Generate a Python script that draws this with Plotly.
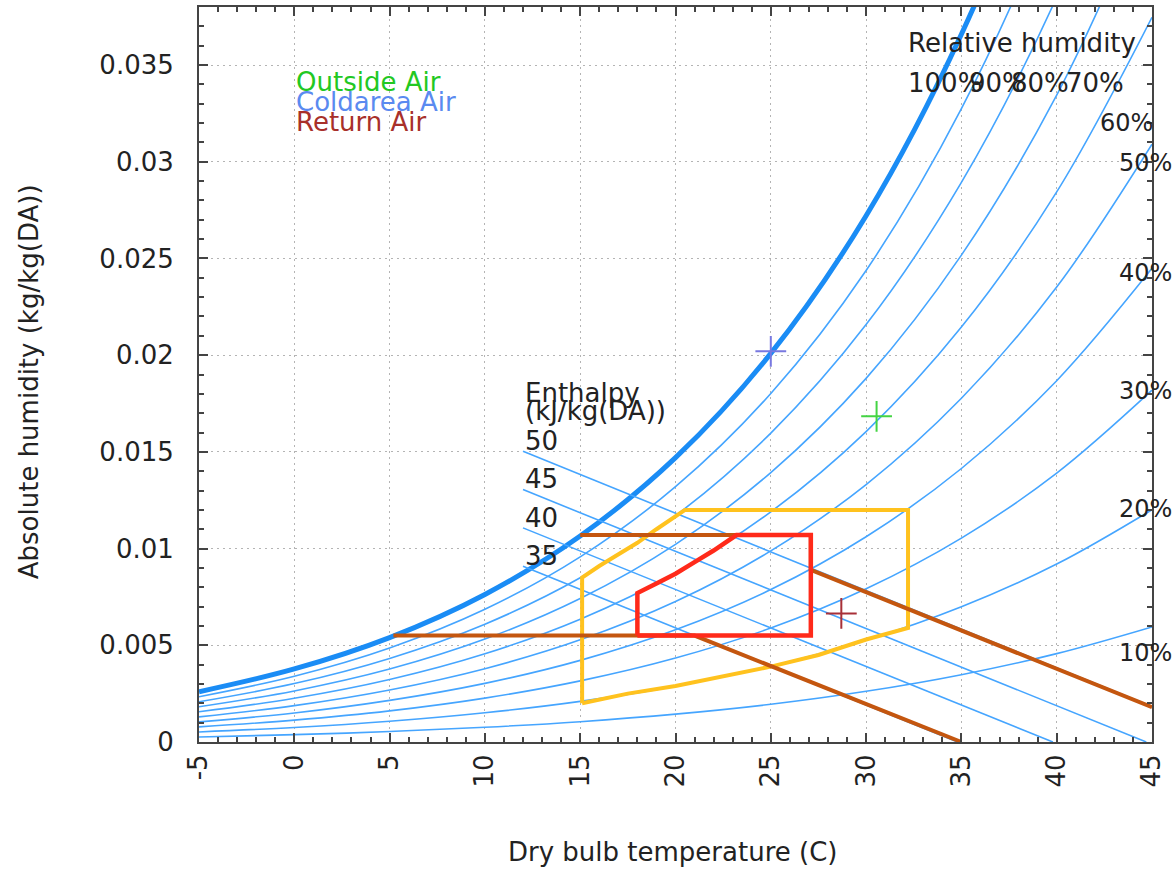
import plotly.graph_objects as go

# ---------------- data ----------------
temps = [-5, 0, 5, 10, 15, 20, 25, 30, 35, 40, 45]
rh_names = ["10%", "20%", "30%", "40%", "50%", "60%", "70%", "80%", "90%", "100%"]
rh10 = [0.00026, 0.00038, 0.00054, 0.00076, 0.00105, 0.00144, 0.00195, 0.00262, 0.00348, 0.00457, 0.00595]
rh20 = [0.00052, 0.00075, 0.00107, 0.00151, 0.00210, 0.00289, 0.00392, 0.00526, 0.00699, 0.00920, 0.01201]
rh30 = [0.00078, 0.00113, 0.00161, 0.00227, 0.00316, 0.00434, 0.00589, 0.00792, 0.01054, 0.01390, 0.01819]
rh40 = [0.00104, 0.00150, 0.00215, 0.00303, 0.00422, 0.00580, 0.00788, 0.01061, 0.01414, 0.01868, 0.02449]
rh50 = [0.00130, 0.00188, 0.00269, 0.00379, 0.00528, 0.00726, 0.00988, 0.01331, 0.01777, 0.02352, 0.03091]
rh60 = [0.00156, 0.00226, 0.00323, 0.00456, 0.00635, 0.00874, 0.01190, 0.01605, 0.02145, 0.02844, 0.03747]
rh70 = [0.00182, 0.00264, 0.00377, 0.00532, 0.00742, 0.01022, 0.01393, 0.01880, 0.02517, 0.03344, 0.04416]
rh80 = [0.00208, 0.00302, 0.00432, 0.00609, 0.00849, 0.01170, 0.01597, 0.02158, 0.02893, 0.03851, 0.05098]
rh90 = [0.00234, 0.00340, 0.00486, 0.00686, 0.00957, 0.01320, 0.01802, 0.02438, 0.03274, 0.04366, 0.05795]
rh100 = [0.00260, 0.00378, 0.00540, 0.00763, 0.01065, 0.01470, 0.02009, 0.02721, 0.03659, 0.04890, 0.06506]

enthalpy_names = ["35", "40", "45", "50"]
h35_t, h35_w = [12, 34.8], [0.00909, 0.0]
h40_t, h40_w = [12, 39.8], [0.01107, 0.0]
h45_t, h45_w = [12, 44.7], [0.01305, 0.0]
h50_t, h50_w = [12, 45.0], [0.01503, 0.00183]

zone_yellow_t = [15.1, 15.1, 16, 17, 18, 19, 20.5, 32.2, 32.2, 30, 27.5, 25, 22.5, 20, 17.5, 15.1]
zone_yellow_w = [0.0020, 0.0085, 0.0091, 0.0097, 0.0103, 0.0110, 0.0120, 0.0120, 0.0059,
                 0.0053, 0.0045, 0.0039, 0.0034, 0.0029, 0.0025, 0.0020]
brown_upper_t = [15.0, 27.1, 27.1, 45.0]
brown_upper_w = [0.0107, 0.0107, 0.0089, 0.0018]
brown_lower_t = [5.2, 21.0, 35.0]
brown_lower_w = [0.0055, 0.0055, 0.0]
zone_red_t = [18, 18, 19, 20, 21, 22, 23.2, 27.1, 27.1, 18]
zone_red_w = [0.0055, 0.0077, 0.0082, 0.0087, 0.0093, 0.0099, 0.0107, 0.0107, 0.0055, 0.0055]

point_names = ["Outside Air", "Coldarea Air", "Return Air"]
point_t = [30.55, 25.0, 28.7]
point_w = [0.01684, 0.0202, 0.00665]
point_colors = ["#44d444", "#7878e0", "#a83038"]
label_colors = ["#22c822", "#5a8af0", "#a8302a"]

x_tick_vals = [-5, 0, 5, 10, 15, 20, 25, 30, 35, 40, 45]
x_tick_text = ["-5", "0", "5", "10", "15", "20", "25", "30", "35", "40", "45"]
y_tick_vals = [0, 0.005, 0.01, 0.015, 0.02, 0.025, 0.03, 0.035]
y_tick_text = ["0", "0.005", "0.01", "0.015", "0.02", "0.025", "0.03", "0.035"]

FONT = "DejaVu Sans"
FS = 26

fig = go.Figure()

rh_series = [rh10, rh20, rh30, rh40, rh50, rh60, rh70, rh80, rh90, rh100]
for name, ws in zip(rh_names, rh_series):
    thick = name == "100%"
    fig.add_trace(go.Scatter(
        x=temps, y=ws, mode="lines", name=name,
        line=dict(color="#1a8cf5" if thick else "#45a5ff", width=5 if thick else 1.6,
                  shape="spline", smoothing=1.0),
        hoverinfo="skip"))

for name, ts, ws in zip(enthalpy_names, [h35_t, h40_t, h45_t, h50_t], [h35_w, h40_w, h45_w, h50_w]):
    fig.add_trace(go.Scatter(x=ts, y=ws, mode="lines", name="h" + name,
                             line=dict(color="#45a5ff", width=1.6), hoverinfo="skip"))

fig.add_trace(go.Scatter(x=zone_yellow_t, y=zone_yellow_w, mode="lines",
                         line=dict(color="#ffc21e", width=4)))
fig.add_trace(go.Scatter(x=brown_upper_t, y=brown_upper_w, mode="lines",
                         line=dict(color="#c4560f", width=4)))
fig.add_trace(go.Scatter(x=brown_lower_t, y=brown_lower_w, mode="lines",
                         line=dict(color="#c4560f", width=4)))
fig.add_trace(go.Scatter(x=zone_red_t, y=zone_red_w, mode="lines",
                         line=dict(color="#ff2a1a", width=4.5)))

for name, t, w, c in zip(point_names, point_t, point_w, point_colors):
    fig.add_trace(go.Scatter(x=[t], y=[w], mode="markers", name=name,
                             marker=dict(symbol="cross-thin", size=22,
                                         line=dict(color=c, width=2))))

ann = []
def txt(x, y, s, color="#222222", size=FS, xanchor="left"):
    ann.append(dict(x=x, y=y, xref="x", yref="y", text=s, showarrow=False,
                    xanchor=xanchor, yanchor="middle",
                    font=dict(family=FONT, size=size, color=color)))

# legend-like labels
for i, (name, c) in enumerate(zip(point_names, label_colors)):
    txt(0.0, 0.03413 - i * 0.00103, name, color=c)

# relative humidity labels
txt(32.1, 0.03614, "Relative humidity")
txt(32.1, 0.03407, "100%")
txt(35.27, 0.03407, "90%")
txt(37.48, 0.03407, "80%")
txt(40.37, 0.03407, "70%")
txt(42.15, 0.03201, "60%", size=24)
txt(43.15, 0.02994, "50%", size=24)
txt(43.15, 0.02425, "40%", size=24)
txt(43.15, 0.01815, "30%", size=24)
txt(43.15, 0.01205, "20%", size=24)
txt(43.15, 0.00460, "10%", size=24)

# enthalpy labels
txt(12.0, 0.01805, "Enthalpy")
txt(12.0, 0.01711, "(kJ/kg(DA))")
txt(12.0, 0.01556, "50")
txt(12.0, 0.01360, "45")
txt(12.0, 0.01158, "40")
txt(12.0, 0.00962, "35")

# axis titles
ann.append(dict(x=0.497, y=-0.149, xref="paper", yref="paper", text="Dry bulb temperature (C)",
                showarrow=False, xanchor="center", yanchor="middle",
                font=dict(family=FONT, size=FS, color="#222222")))
ann.append(dict(x=-0.179, y=0.49, xref="paper", yref="paper", text="Absolute humidity (kg/kg(DA))",
                showarrow=False, xanchor="center", yanchor="middle", textangle=-90,
                font=dict(family=FONT, size=FS, color="#222222")))

axis_common = dict(
    showline=True, linecolor="#444444", linewidth=2, mirror="ticks",
    ticks="inside", ticklen=9, tickwidth=1.5, tickcolor="#444444",
    showgrid=True, gridcolor="#b4b4b4", gridwidth=1, griddash="2px,4px",
    zeroline=False, tickfont=dict(family=FONT, size=FS, color="#222222"),
)

fig.update_layout(
    width=1175, height=872,
    margin=dict(l=199, r=23, t=5, b=130),
    paper_bgcolor="white", plot_bgcolor="white",
    showlegend=False,
    annotations=ann,
    xaxis=dict(range=[-5, 45], tickmode="array", tickvals=x_tick_vals, ticktext=x_tick_text,
               tickangle=-90,
               minor=dict(tickmode="linear", tick0=0, dtick=1, ticks="inside", ticklen=5,
                          tickcolor="#444444", showgrid=False),
               **axis_common),
    yaxis=dict(range=[0, 0.038], tickmode="array", tickvals=y_tick_vals, ticktext=y_tick_text,
               ticklabelstandoff=18,
               minor=dict(tickmode="linear", tick0=0, dtick=0.001, ticks="inside", ticklen=5,
                          tickcolor="#444444", showgrid=False),
               **axis_common),
)

fig.write_html("out.html", config={"displayModeBar": False},
               post_script="document.body.style.margin='0';")
